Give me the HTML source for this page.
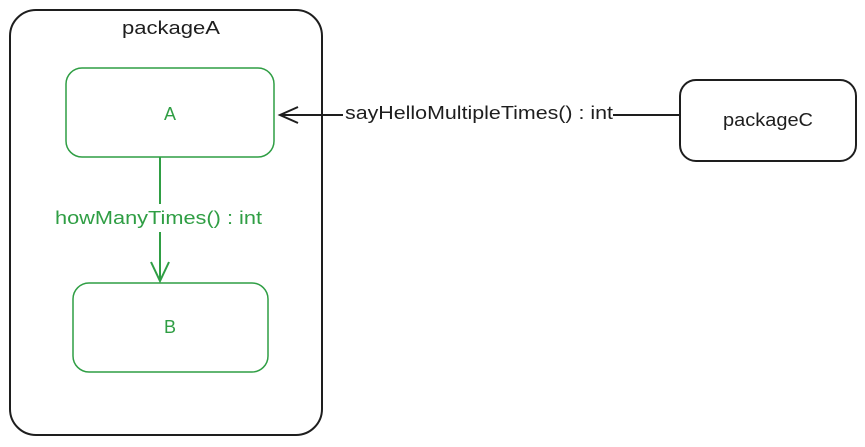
<!DOCTYPE html>
<html><head><meta charset="utf-8"><style>
html,body{margin:0;padding:0;background:#fff;}
body{width:865px;height:442px;overflow:hidden;}
text{font-family:"Liberation Sans",sans-serif;}
</style></head><body>
<svg width="865" height="442" viewBox="0 0 865 442" xmlns="http://www.w3.org/2000/svg">
<rect x="10" y="10" width="312" height="425" rx="26" fill="none" stroke="#1e1e1e" stroke-width="2"/>
<text x="122" y="34" font-size="18" textLength="98" lengthAdjust="spacingAndGlyphs" fill="#1e1e1e">packageA</text>
<rect x="66" y="68" width="208" height="89" rx="16" fill="none" stroke="#2f9e44" stroke-width="1.5"/>
<text x="170" y="120" font-size="18" text-anchor="middle" fill="#2f9e44">A</text>
<rect x="73" y="283" width="195" height="89" rx="16" fill="none" stroke="#2f9e44" stroke-width="1.5"/>
<text x="170" y="333" font-size="18" text-anchor="middle" fill="#2f9e44">B</text>
<line x1="160" y1="157" x2="160" y2="281" stroke="#2f9e44" stroke-width="2"/>
<polyline points="151,262 160,281 169,262" fill="none" stroke="#2f9e44" stroke-width="2"/>
<rect x="53" y="204" width="212" height="28" fill="#fff"/>
<text x="55" y="224" font-size="18" textLength="207" lengthAdjust="spacingAndGlyphs" fill="#2f9e44">howManyTimes() : int</text>
<rect x="680" y="80" width="176" height="81" rx="16" fill="none" stroke="#1e1e1e" stroke-width="2"/>
<text x="723" y="126" font-size="18" textLength="90" lengthAdjust="spacingAndGlyphs" fill="#1e1e1e">packageC</text>
<line x1="680" y1="115" x2="280" y2="115" stroke="#1e1e1e" stroke-width="2"/>
<polyline points="298,107 280,115 298,123" fill="none" stroke="#1e1e1e" stroke-width="2"/>
<rect x="343" y="100" width="270" height="26" fill="#fff"/>
<text x="345" y="119" font-size="18" textLength="268" lengthAdjust="spacingAndGlyphs" fill="#1e1e1e">sayHelloMultipleTimes() : int</text>
</svg>
</body></html>
